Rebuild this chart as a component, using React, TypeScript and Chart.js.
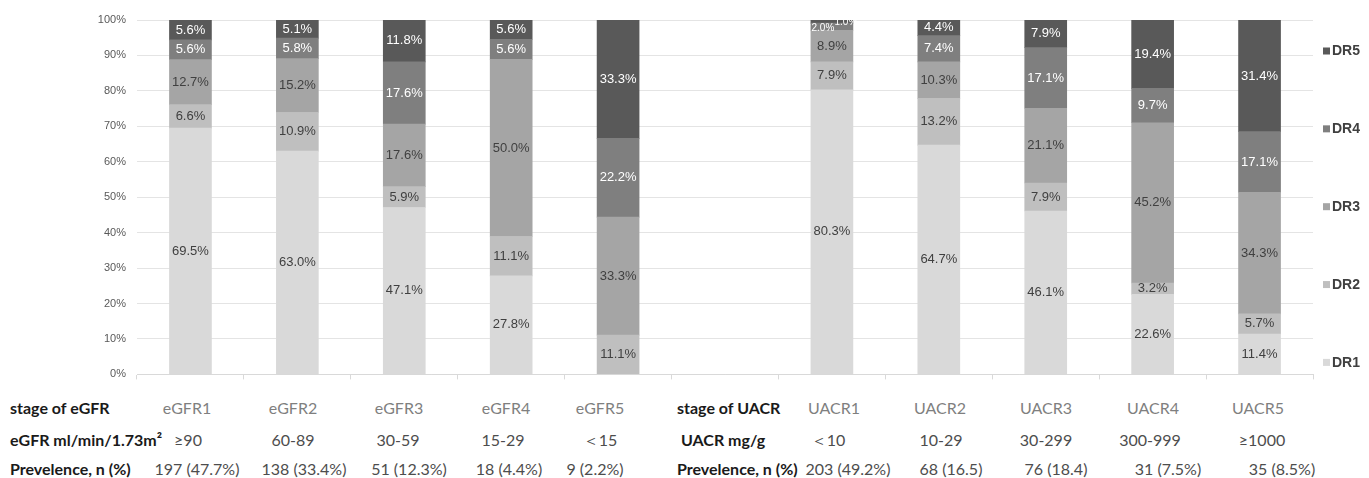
import React, { useEffect, useRef } from "react";
import { Chart, registerables } from "chart.js";

Chart.register(...registerables);

// ---------- data ----------
const categories = ["eGFR1", "eGFR2", "eGFR3", "eGFR4", "eGFR5", "", "UACR1", "UACR2", "UACR3", "UACR4", "UACR5"];
const seriesNames = ["DR1", "DR2", "DR3", "DR4", "DR5"];
const dr1 = [69.5, 63.0, 47.1, 27.8, 0, null, 80.3, 64.7, 46.1, 22.6, 11.4];
const dr2 = [6.6, 10.9, 5.9, 11.1, 11.1, null, 7.9, 13.2, 7.9, 3.2, 5.7];
const dr3 = [12.7, 15.2, 17.6, 50.0, 33.3, null, 8.9, 10.3, 21.1, 45.2, 34.3];
const dr4 = [5.6, 5.8, 17.6, 5.6, 22.2, null, 2.0, 7.4, 17.1, 9.7, 17.1];
const dr5 = [5.6, 5.1, 11.8, 5.6, 33.3, null, 1.0, 4.4, 7.9, 19.4, 31.4];
const yTickStep = 10;

// table below the chart
const eGFRStageLabel = "stage of eGFR";
const eGFRStages = ["eGFR1", "eGFR2", "eGFR3", "eGFR4", "eGFR5"];
const eGFRRangeLabel = "eGFR ml/min/1.73m²";
const eGFRRanges = ["≥90", "60-89", "30-59", "15-29", "＜15"];
const eGFRPrevLabel = "Prevelence, n (%)";
const eGFRPrev = ["197 (47.7%)", "138 (33.4%)", "51 (12.3%)", "18 (4.4%)", "9 (2.2%)"];

const uacrStageLabel = "stage of UACR";
const uacrStages = ["UACR1", "UACR2", "UACR3", "UACR4", "UACR5"];
const uacrRangeLabel = "UACR mg/g";
const uacrRanges = ["＜10", "10-29", "30-299", "300-999", "≥1000"];
const uacrPrevLabel = "Prevelence, n (%)";
const uacrPrev = ["203 (49.2%)", "68 (16.5)", "76 (18.4)", "31 (7.5%)", "35 (8.5%)"];

// ---------- styles ----------
const seriesColors = ["#d9d9d9", "#bfbfbf", "#a5a5a5", "#7f7f7f", "#595959"];
const labelColors = ["#404040", "#404040", "#404040", "#ffffff", "#ffffff"];
const FONT = "'Liberation Sans', Arial, sans-serif";
const TABLE_FONT = "Lato, 'Noto Sans', sans-serif";

const dataLabelPlugin = {
  id: "segLabels",
  afterDatasetsDraw(chart: any) {
    const ctx = chart.ctx;
    const ca = chart.chartArea;
    ctx.save();
    ctx.textAlign = "center";
    ctx.textBaseline = "middle";
    chart.data.datasets.forEach((ds: any, di: number) => {
      const meta = chart.getDatasetMeta(di);
      meta.data.forEach((bar: any, i: number) => {
        const v = ds.data[i];
        if (v === null || v === undefined || v === 0) return;
        const p = bar.getProps(["x", "y", "base"], true);
        const top = Math.max(Math.min(p.y, p.base), ca.top);
        const bottom = Math.max(p.y, p.base);
        let cx = p.x;
        let cy = (top + bottom) / 2;
        let size = 13;
        if (v < 2.5) {
          size = 10;
          if (di === 3) { cx -= 9; cy += 2; }
          else { cx += 14; cy += 1; }
        }
        ctx.font = `${size}px ${FONT}`;
        ctx.fillStyle = labelColors[di];
        ctx.fillText(v.toFixed(1) + "%", cx, cy);
      });
    });
    ctx.restore();
  },
};

const sideLegendPlugin = {
  id: "sideLegend",
  afterDraw(chart: any) {
    const ctx = chart.ctx;
    const ca = chart.chartArea;
    const n = chart.data.datasets.length;
    const y0 = ca.top + 31;
    const y1 = ca.bottom - 12;
    ctx.save();
    ctx.textAlign = "left";
    ctx.textBaseline = "middle";
    ctx.font = `bold 14px ${FONT}`;
    for (let k = 0; k < n; k++) {
      const di = n - 1 - k;
      const ds = chart.data.datasets[di];
      const y = y0 + ((y1 - y0) * k) / (n - 1);
      ctx.fillStyle = ds.backgroundColor;
      ctx.fillRect(ca.right + 10, y - 3.5, 7, 7);
      ctx.fillStyle = "#404040";
      ctx.fillText(ds.label, ca.right + 19, y + 0.5);
    }
    ctx.restore();
  },
};

function ChartCanvas() {
  const ref = useRef<HTMLCanvasElement | null>(null);
  useEffect(() => {
    if (!ref.current) return;
    Chart.defaults.font.family = FONT;
    const seriesData = [dr1, dr2, dr3, dr4, dr5];
    const chart = new Chart(ref.current, {
      type: "bar",
      data: {
        labels: categories,
        datasets: seriesNames.map((name, i) => ({
          label: name,
          data: seriesData[i] as any,
          backgroundColor: seriesColors[i],
          borderWidth: 0,
          barThickness: 42,
        })),
      },
      options: {
        responsive: false,
        animation: false,
        devicePixelRatio: 1,
        layout: { padding: { top: 20, right: 56, bottom: 0, left: 0 } },
        plugins: { legend: { display: false }, tooltip: { enabled: false } },
        scales: {
          x: {
            stacked: true,
            grid: { drawOnChartArea: false, drawTicks: true, tickLength: 5, color: "#d9d9d9" },
            border: { display: true, color: "#d9d9d9" },
            ticks: { display: false },
            afterFit(scale: any) { scale.height = 13; },
          },
          y: {
            stacked: true,
            min: 0,
            max: 100,
            grid: { color: "#e4e4e4", drawTicks: false },
            border: { display: false },
            ticks: {
              stepSize: yTickStep,
              padding: 11,
              color: "#595959",
              font: { size: 11, family: FONT },
              callback: (v: any) => v + "%",
            },
            afterFit(scale: any) { scale.width = 137; },
          },
        },
      },
      plugins: [dataLabelPlugin, sideLegendPlugin],
    });
    return () => chart.destroy();
  }, []);
  return (
    <canvas
      ref={ref}
      width={1369}
      height={392}
      style={{ position: "absolute", left: 0, top: 0, width: 1369, height: 392, display: "block" }}
    />
  );
}

const leftCols = {
  stage: [187, 293, 399, 506, 600],
  range: [188, 293, 398, 503, 600],
  prev: [197, 304, 409, 509, 595],
};
const rightCols = {
  stage: [834, 940, 1046, 1153, 1258],
  range: [828, 941, 1046, 1150, 1262],
  prev: [848, 951, 1056, 1168, 1282],
};
const rowY = [408, 440, 469];

function Cell({ x, y, text, color, center }: { x: number; y: number; text: string; color: string; center?: boolean }) {
  return (
    <div
      style={{
        position: "absolute",
        left: x,
        top: y - 11,
        height: 22,
        lineHeight: "22px",
        transform: center ? "translateX(-50%)" : undefined,
        whiteSpace: "nowrap",
        fontFamily: TABLE_FONT,
        fontSize: 16,
        fontWeight: center ? 400 : 700,
        color,
      }}
    >
      {text}
    </div>
  );
}

export default function App() {
  const labelColor = "#1a1a1a";
  const stageColor = "#7f7f7f";
  const valColor = "#4d4d4d";
  return (
    <div style={{ position: "absolute", left: 0, top: 0, width: 1369, height: 478, background: "#fff", overflow: "hidden" }}>
      <ChartCanvas />
      <Cell x={10} y={rowY[0]} text={eGFRStageLabel} color={labelColor} />
      <Cell x={10} y={rowY[1]} text={eGFRRangeLabel} color={labelColor} />
      <Cell x={10} y={rowY[2]} text={eGFRPrevLabel} color={labelColor} />
      {eGFRStages.map((t, i) => <Cell key={"es" + i} x={leftCols.stage[i]} y={rowY[0]} text={t} color={stageColor} center />)}
      {eGFRRanges.map((t, i) => <Cell key={"er" + i} x={leftCols.range[i]} y={rowY[1]} text={t} color={valColor} center />)}
      {eGFRPrev.map((t, i) => <Cell key={"ep" + i} x={leftCols.prev[i]} y={rowY[2]} text={t} color={valColor} center />)}
      <Cell x={677} y={rowY[0]} text={uacrStageLabel} color={labelColor} />
      <Cell x={681} y={rowY[1]} text={uacrRangeLabel} color={labelColor} />
      <Cell x={677} y={rowY[2]} text={uacrPrevLabel} color={labelColor} />
      {uacrStages.map((t, i) => <Cell key={"us" + i} x={rightCols.stage[i]} y={rowY[0]} text={t} color={stageColor} center />)}
      {uacrRanges.map((t, i) => <Cell key={"ur" + i} x={rightCols.range[i]} y={rowY[1]} text={t} color={valColor} center />)}
      {uacrPrev.map((t, i) => <Cell key={"up" + i} x={rightCols.prev[i]} y={rowY[2]} text={t} color={valColor} center />)}
    </div>
  );
}
